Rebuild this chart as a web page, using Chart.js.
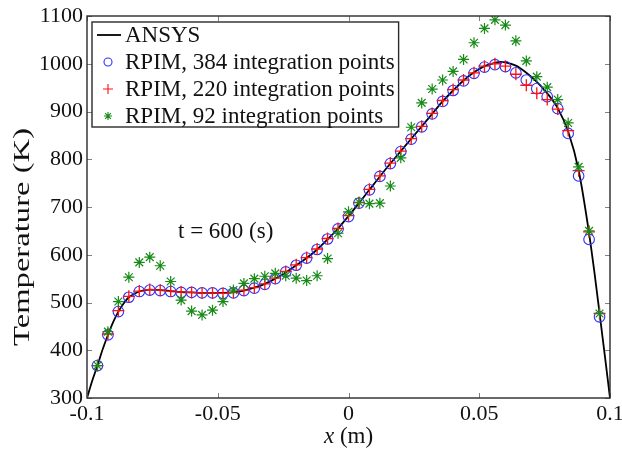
<!DOCTYPE html>
<html>
<head>
<meta charset="utf-8">
<script src="https://cdn.jsdelivr.net/npm/chart.js@4.4.1/dist/chart.umd.min.js"></script>
<style>
  html, body { margin: 0; padding: 0; background: #fff; }
  canvas { display: block; }
</style>
</head>
<body>
<canvas id="c" width="622" height="451"></canvas>
<script>
// ---------------- DATA ----------------
const xTickValues = [-0.1, -0.05, 0, 0.05, 0.1];
const xTickLabels = ['-0.1', '-0.05', '0', '0.05', '0.1'];
const yTickValues = [300, 400, 500, 600, 700, 800, 900, 1000, 1100];
const yTickLabels = ['300', '400', '500', '600', '700', '800', '900', '1000', '1100'];

const ansysX = [-0.100, -0.098, -0.096, -0.094, -0.092, -0.090, -0.088, -0.086, -0.084, -0.080,
  -0.076, -0.072, -0.068, -0.064, -0.060, -0.056, -0.052, -0.048, -0.044, -0.040,
  -0.036, -0.032, -0.028, -0.024, -0.020, -0.016, -0.012, -0.008, -0.004, 0.000,
  0.004, 0.008, 0.012, 0.016, 0.020, 0.024, 0.028, 0.032, 0.036, 0.040,
  0.044, 0.048, 0.052, 0.056, 0.058, 0.060, 0.064, 0.068, 0.072, 0.076,
  0.080, 0.084, 0.088, 0.092, 0.094, 0.096, 0.098, 0.100];
const ansysT = [300, 336, 368, 402, 432, 459, 481, 498, 511, 523,
  527, 526, 524, 522, 521, 520, 520, 520, 521, 525,
  531, 539, 550, 563, 578, 593, 611, 632, 655, 681,
  708, 736, 764, 791, 817, 843, 869, 895, 921, 944,
  965, 982, 995, 1002, 1004, 1003, 996, 981, 962, 938,
  907, 858, 777, 645, 565, 478, 390, 300];

const nodeX = [-0.096, -0.092, -0.088, -0.084, -0.080, -0.076, -0.072, -0.068, -0.064, -0.060,
  -0.056, -0.052, -0.048, -0.044, -0.040, -0.036, -0.032, -0.028, -0.024, -0.020,
  -0.016, -0.012, -0.008, -0.004, 0.000, 0.004, 0.008, 0.012, 0.016, 0.020,
  0.024, 0.028, 0.032, 0.036, 0.040, 0.044, 0.048, 0.052, 0.056, 0.060,
  0.064, 0.068, 0.072, 0.076, 0.080, 0.084, 0.088, 0.092, 0.096];
const rpim384 = [368, 432, 481, 511, 523, 526, 525, 523, 521, 521,
  520, 520, 519, 520, 525, 530, 538, 550, 564, 578,
  593, 611, 633, 654, 680, 708, 736, 764, 791, 816,
  842, 868, 895, 921, 944, 964, 980, 993, 998, 994,
  981, 966, 948, 931, 906, 854, 765, 632, 470];
const rpim220 = [368, 434, 483, 513, 524, 527, 526, 524, 522, 521,
  520, 520, 519, 521, 526, 531, 539, 551, 565, 579,
  594, 612, 634, 655, 682, 709, 737, 765, 792, 817,
  843, 869, 896, 923, 946, 966, 981, 995, 1000, 995,
  978, 955, 938, 925, 905, 860, 776, 648, 477];
const rpim92 = [368, 439, 502, 553, 584, 595, 577, 544, 505, 482,
  474, 484, 502, 526, 540, 550, 555, 561, 556, 551,
  546, 556, 592, 645, 690, 710, 707, 708, 744, 803,
  867, 918, 947, 966, 984, 1009, 1044, 1074, 1092, 1081,
  1048, 1006, 973, 951, 925, 876, 784, 650, 477];

const seriesLabels = ['ANSYS', 'RPIM, 384 integration points', 'RPIM, 220 integration points', 'RPIM, 92 integration points'];
const annotationText = 't = 600 (s)';
const annotationAt = { x: -0.0652, y: 635 };
const xTitleItalic = 'x';
const xTitleRest = ' (m)';
const yTitle = 'Temperature (K)';

// ---------------- STYLE ----------------
const SERIF = '"Liberation Serif", "Times New Roman", serif';
const BLUE = '#2f2fff';
const RED = '#ff1010';
const GREEN = '#178a17';

const toPts = (xs, ys) => xs.map((x, i) => ({ x: x, y: ys[i] }));

const decorPlugin = {
  id: 'decor',
  afterDatasetsDraw(chart) {
    const ctx = chart.ctx;
    const a = chart.chartArea;
    const xs = chart.scales.x, ys = chart.scales.y;
    ctx.save();
    // inward tick marks on all four sides
    ctx.strokeStyle = '#808080';
    ctx.lineWidth = 1;
    const tl = 5;
    xTickValues.forEach(v => {
      const px = Math.round(xs.getPixelForValue(v)) + 0.5;
      ctx.beginPath();
      ctx.moveTo(px, a.bottom); ctx.lineTo(px, a.bottom - tl);
      ctx.moveTo(px, a.top); ctx.lineTo(px, a.top + tl);
      ctx.stroke();
    });
    yTickValues.forEach(v => {
      const py = Math.round(ys.getPixelForValue(v)) + 0.5;
      ctx.beginPath();
      ctx.moveTo(a.left, py); ctx.lineTo(a.left + tl, py);
      ctx.moveTo(a.right, py); ctx.lineTo(a.right - tl, py);
      ctx.stroke();
    });
    // frame
    ctx.strokeStyle = '#2a2a2a';
    ctx.lineWidth = 1.4;
    ctx.strokeRect(a.left, a.top, a.right - a.left, a.bottom - a.top);

    // annotation
    ctx.fillStyle = '#111';
    ctx.font = '23px ' + SERIF;
    ctx.textAlign = 'left';
    ctx.textBaseline = 'alphabetic';
    ctx.fillText(annotationText, xs.getPixelForValue(annotationAt.x), ys.getPixelForValue(annotationAt.y));

    // x title (italic x + normal rest)
    ctx.font = 'italic 23px ' + SERIF;
    const w1 = ctx.measureText(xTitleItalic).width;
    ctx.font = '23px ' + SERIF;
    const w2 = ctx.measureText(xTitleRest).width;
    const cx = (a.left + a.right) / 2;
    const startX = cx - (w1 + w2) / 2;
    const baseY = a.bottom + 45;
    ctx.font = 'italic 23px ' + SERIF;
    ctx.fillText(xTitleItalic, startX, baseY);
    ctx.font = '23px ' + SERIF;
    ctx.fillText(xTitleRest, startX + w1, baseY);

    // y title (rotated, elongated like the reference)
    ctx.save();
    ctx.translate(29, (a.top + a.bottom) / 2 + 30);
    ctx.rotate(-Math.PI / 2);
    ctx.scale(1.42, 1);
    ctx.font = '23px ' + SERIF;
    ctx.textAlign = 'center';
    ctx.fillText(yTitle, 0, 0);
    ctx.restore();

    // legend box
    const ds = chart.data.datasets;
    const bx = a.left + 5, by = a.top + 6;
    const rowH = 27;
    ctx.font = '23px ' + SERIF;
    let maxW = 0;
    ds.forEach(d => { maxW = Math.max(maxW, ctx.measureText(d.label).width); });
    const textX = bx + 33;
    const bw = textX - bx + maxW + 4;
    const bh = rowH * ds.length - 3;
    ctx.fillStyle = '#fff';
    ctx.fillRect(bx, by, bw, bh);
    ctx.strokeStyle = '#2a2a2a';
    ctx.lineWidth = 1.4;
    ctx.strokeRect(bx, by, bw, bh);
    ds.forEach((d, i) => {
      const ry = by + 13 + i * rowH;
      const mx = bx + 16;
      ctx.strokeStyle = d.borderColor;
      if (d.showLine) {
        ctx.lineWidth = d.borderWidth;
        ctx.beginPath(); ctx.moveTo(bx + 5, ry); ctx.lineTo(bx + 29, ry); ctx.stroke();
      } else {
        const r = 4;
        ctx.lineWidth = 1.1;
        ctx.beginPath();
        if (d.pointStyle === 'circle') {
          ctx.arc(mx, ry, r, 0, Math.PI * 2);
        } else if (d.pointStyle === 'cross') {
          ctx.moveTo(mx - r - 1, ry); ctx.lineTo(mx + r + 1, ry);
          ctx.moveTo(mx, ry - r - 1); ctx.lineTo(mx, ry + r + 1);
        } else {
          const q = r * 0.72;
          ctx.moveTo(mx - r, ry); ctx.lineTo(mx + r, ry);
          ctx.moveTo(mx, ry - r); ctx.lineTo(mx, ry + r);
          ctx.moveTo(mx - q, ry - q); ctx.lineTo(mx + q, ry + q);
          ctx.moveTo(mx - q, ry + q); ctx.lineTo(mx + q, ry - q);
        }
        ctx.stroke();
      }
      ctx.fillStyle = '#111';
      ctx.textAlign = 'left';
      ctx.textBaseline = 'middle';
      ctx.fillText(d.label, textX, ry + 1);
    });
    ctx.restore();
  }
};

new Chart(document.getElementById('c').getContext('2d'), {
  type: 'scatter',
  data: {
    datasets: [
      { label: seriesLabels[0], data: toPts(ansysX, ansysT), showLine: true,
        borderColor: '#000', borderWidth: 1.8, pointRadius: 0, pointHoverRadius: 0,
        cubicInterpolationMode: 'monotone', order: 3 },
      { label: seriesLabels[1], data: toPts(nodeX, rpim384), pointStyle: 'circle',
        pointRadius: 5.3, borderColor: BLUE, backgroundColor: 'rgba(0,0,0,0)',
        borderWidth: 1.1, order: 2 },
      { label: seriesLabels[2], data: toPts(nodeX, rpim220), pointStyle: 'cross',
        pointRadius: 6, borderColor: RED, backgroundColor: RED, borderWidth: 1.3, order: 1 },
      { label: seriesLabels[3], data: toPts(nodeX, rpim92), pointStyle: 'star',
        pointRadius: 5.5, borderColor: GREEN, backgroundColor: GREEN, borderWidth: 1.2, order: 0 }
    ]
  },
  options: {
    responsive: false,
    animation: false,
    events: [],
    layout: { padding: { left: 0, top: 16, right: 12, bottom: 0 } },
    plugins: { legend: { display: false }, tooltip: { enabled: false } },
    scales: {
      x: {
        type: 'linear', min: -0.1, max: 0.1,
        grid: { display: false, drawTicks: false }, border: { display: false },
        afterBuildTicks: s => { s.ticks = xTickValues.map(v => ({ value: v })); },
        afterFit: s => { s.height = 53; s.paddingLeft = 0; s.paddingRight = 0; },
        ticks: {
          color: '#111', padding: 3, maxRotation: 0, autoSkip: false,
          font: { family: SERIF, size: 22 },
          callback: v => xTickLabels[xTickValues.indexOf(v)]
        }
      },
      y: {
        type: 'linear', min: 300, max: 1100,
        grid: { display: false, drawTicks: false }, border: { display: false },
        afterBuildTicks: s => { s.ticks = yTickValues.map(v => ({ value: v })); },
        afterFit: s => { s.width = 87; s.paddingTop = 0; s.paddingBottom = 0; },
        ticks: {
          color: '#111', padding: 4, autoSkip: false,
          font: { family: SERIF, size: 22 },
          callback: v => yTickLabels[yTickValues.indexOf(v)]
        }
      }
    }
  },
  plugins: [decorPlugin]
});
</script>
</body>
</html>
